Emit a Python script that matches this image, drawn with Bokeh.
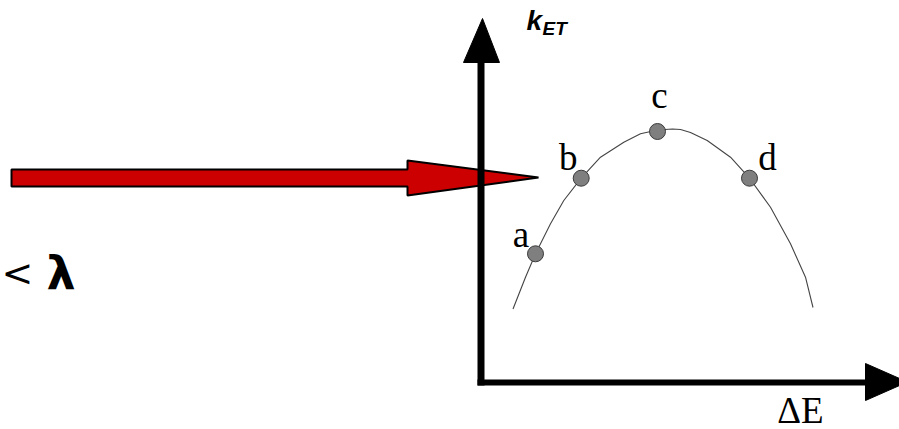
from bokeh.plotting import figure
from bokeh.models import Range1d, ColumnDataSource
from bokeh.embed import file_html
from bokeh.resources import INLINE
from bokeh.core.properties import value

# ---- data (arbitrary units: ΔE along x, k_ET along y; origin at axes corner) ----
curve_dE = [3.25, 4.5, 5.5, 7.0, 8.33, 10.07, 12.0, 14.33, 16.0, 17.7,
            19.2, 20.0, 21.0, 22.67, 25.0, 26.9, 29.0, 31.0, 32.5, 33.25]
curve_k = [7.35, 10.53, 12.87, 15.87, 18.2, 20.43, 22.53, 24.03, 24.87, 25.25,
           25.35, 25.3, 25.0, 24.2, 22.53, 20.43, 17.53, 13.87, 10.53, 7.5]

point_labels = ["a", "b", "c", "d"]
point_dE = [5.5, 10.07, 17.7, 26.9]
point_k = [12.87, 20.43, 25.1, 20.43]

x_axis_label = "ΔE"
y_axis_label_main = "k"
y_axis_label_sub = "ET"
side_label = "λ"
side_symbol = "<"

# ---- figure: 1 data unit = 10 px ----
W, H = 899, 429
p = figure(width=W, height=H, output_backend="svg", toolbar_location=None,
           x_range=Range1d(-48.0, 41.9), y_range=Range1d(-4.7, 38.2),
           x_axis_location=None, y_axis_location=None, min_border=0,
           outline_line_color=None, background_fill_color="white",
           border_fill_color="white")
p.grid.visible = False

# red arrow (drawn under the axis)
sh_y0, sh_y1 = 19.6, 21.3
hd_y0, hd_y1 = 18.7, 22.2
x_start, x_head, x_tip, y_tip = -46.9, -7.3, 5.8, 20.5
p.patch([x_start, x_head, x_head, x_tip, x_head, x_head, x_start],
        [sh_y0, sh_y0, hd_y0, y_tip, hd_y1, sh_y1, sh_y1],
        fill_color="#CC0000", line_color="black", line_width=2)

# axes
p.line([0.05, 0.05], [-0.3, 32.5], line_color="black", line_width=7)
p.patch([-1.7, 1.9, 0.2], [32.0, 32.0, 36.4], fill_color="black", line_color="black")
p.line([-0.3, 38.8], [0.0, 0.0], line_color="black", line_width=6)
p.patch([38.5, 38.5, 42.7], [1.9, -1.8, 0.05], fill_color="black", line_color="black")

# curve
p.line(curve_dE, curve_k, line_color="#444444", line_width=1.1)

# points
src = ColumnDataSource(dict(x=point_dE, y=point_k, t=point_labels,
                            dx=[-14.5, -13, 2, 18], dy=[-19, -21, -36, -21]))
p.scatter("x", "y", source=src, size=16, fill_color="#7f7f7f",
          line_color="#3a3a3a", line_width=1)
p.text("x", "y", text="t", source=src, x_offset="dx", y_offset="dy",
       text_font=value("Liberation Serif"), text_font_size="37px",
       text_align="center", text_baseline="alphabetic", text_color="black")

# axis labels
p.text([4.6], [36.2], text=[y_axis_label_main], text_font=value("Liberation Sans"),
       text_font_style="bold italic", text_font_size="28px",
       text_baseline="alphabetic", text_align="left")
p.text([6.2], [35.4], text=[y_axis_label_sub], text_font=value("Liberation Sans"),
       text_font_style="bold italic", text_font_size="19px",
       text_baseline="alphabetic", text_align="left")
p.text([32.0], [-2.8], text=[x_axis_label], text_font=value("Liberation Serif"),
       text_font_size="37px", text_baseline="alphabetic", text_align="center")

# side text
p.text([-47.9], [11.0], text=[side_symbol], text_font=value("DejaVu Sans"),
       text_font_size="38px", text_baseline="alphabetic", text_align="left")
p.text([-41.95], [11.0], text=[side_label], text_font=value("DejaVu Sans"),
       text_font_size="46px", text_font_style="bold", text_baseline="alphabetic",
       text_align="center")

open("out.html", "w").write(file_html(p, INLINE))
